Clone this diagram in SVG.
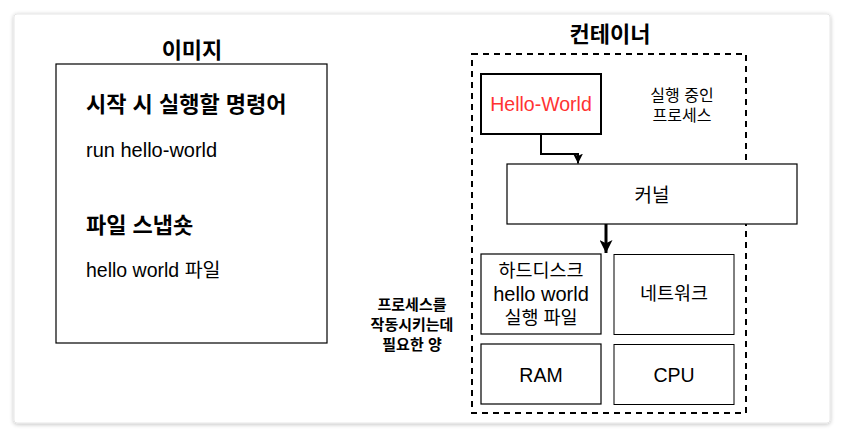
<svg xmlns="http://www.w3.org/2000/svg" width="846" height="438" viewBox="0 0 846 438">
<defs>
<style>
.t{font-family:"Liberation Sans","Noto Sans CJK KR",Arial,sans-serif;fill:#000}
.b{font-weight:bold}
.box{fill:#fff;stroke:#000;stroke-width:1.2}
.gbox{fill:#fff;stroke:#000;stroke-width:1}
</style>
<filter id="sh" x="-5%" y="-5%" width="110%" height="110%">
<feGaussianBlur in="SourceAlpha" stdDeviation="2"/>
<feOffset dx="0" dy="1" result="o"/>
<feComponentTransfer><feFuncA type="linear" slope="0.25"/></feComponentTransfer>
<feMerge><feMergeNode/><feMergeNode in="SourceGraphic"/></feMerge>
</filter>
<marker id="a1" viewBox="0 0 10 10" refX="10" refY="5" markerWidth="10" markerHeight="10" markerUnits="userSpaceOnUse" orient="auto">
<path d="M0,0 L10,5 L0,10 L2.5,5 Z" fill="#000"/>
</marker>
<marker id="a2" viewBox="0 0 10 10" refX="10" refY="5" markerWidth="17" markerHeight="13" markerUnits="userSpaceOnUse" orient="auto">
<path d="M0,0 L10,5 L0,10 L2.5,5 Z" fill="#000"/>
</marker>
</defs>
<rect x="0" y="0" width="846" height="438" fill="#fff"/>
<rect x="14" y="14" width="816" height="409" rx="3" fill="#fff" stroke="#e6e6e6" stroke-width="1" filter="url(#sh)"/>

<g id="image">
<text class="t b" x="192" y="58" font-size="22" text-anchor="middle">이미지</text>
<rect class="box" x="56" y="64" width="271" height="279"/>
<text class="t b" x="86" y="112" font-size="22">시작 시 실행할 명령어</text>
<text class="t" x="86" y="157" font-size="20">run hello-world</text>
<text class="t b" x="86" y="233" font-size="22">파일 스냅숏</text>
<text class="t" x="86" y="277" font-size="19.5">hello world 파일</text>
</g>

<g id="container">
<text class="t b" x="610" y="42" font-size="22" text-anchor="middle">컨테이너</text>
<rect x="472" y="54" width="274" height="359" fill="none" stroke="#000" stroke-width="2" stroke-dasharray="6,5"/>
<text class="t" x="682" y="101" font-size="16" text-anchor="middle">실행 중인</text>
<text class="t" x="682" y="121" font-size="16" text-anchor="middle">프로세스</text>
</g>

<g id="hello-world">
<rect x="481" y="74" width="120" height="60" fill="#fff" stroke="#000" stroke-width="2"/>
<text class="t" x="541" y="111" font-size="19.5" text-anchor="middle" style="fill:#ff3333">Hello-World</text>
</g>

<g id="kernel">
<rect class="box" x="507" y="164" width="290" height="60"/>
<text class="t" x="652" y="202" font-size="19" text-anchor="middle">커널</text>
</g>

<g id="harddisk">
<rect class="box" x="481" y="254" width="120" height="80"/>
<text class="t" x="541" y="277" font-size="18.5" text-anchor="middle">하드디스크</text>
<text class="t" x="541" y="301" font-size="20" text-anchor="middle">hello world</text>
<text class="t" x="541" y="324" font-size="18.5" text-anchor="middle">실행 파일</text>
</g>

<g id="network">
<rect class="gbox" x="614" y="254.5" width="120" height="80"/>
<text class="t" x="674" y="300" font-size="18.5" text-anchor="middle">네트워크</text>
</g>

<g id="ram">
<rect class="box" x="481" y="344" width="120" height="60"/>
<text class="t" x="541" y="382" font-size="19.5" text-anchor="middle">RAM</text>
</g>

<g id="cpu">
<rect class="gbox" x="614" y="344.5" width="120" height="60"/>
<text class="t" x="674" y="382" font-size="19.5" text-anchor="middle">CPU</text>
</g>

<g id="resource-label">
<text class="t b" x="412" y="310" font-size="15" text-anchor="middle">프로세스를</text>
<text class="t b" x="412" y="330" font-size="15" text-anchor="middle">작동시키는데</text>
<text class="t b" x="412" y="350" font-size="15" text-anchor="middle">필요한 양</text>
</g>

<g id="connectors">
<path d="M541,134 V154 H578 V163.5" fill="none" stroke="#000" stroke-width="2" marker-end="url(#a1)"/>
<path d="M606,224 V253" fill="none" stroke="#000" stroke-width="3" marker-end="url(#a2)"/>
</g>
</svg>
